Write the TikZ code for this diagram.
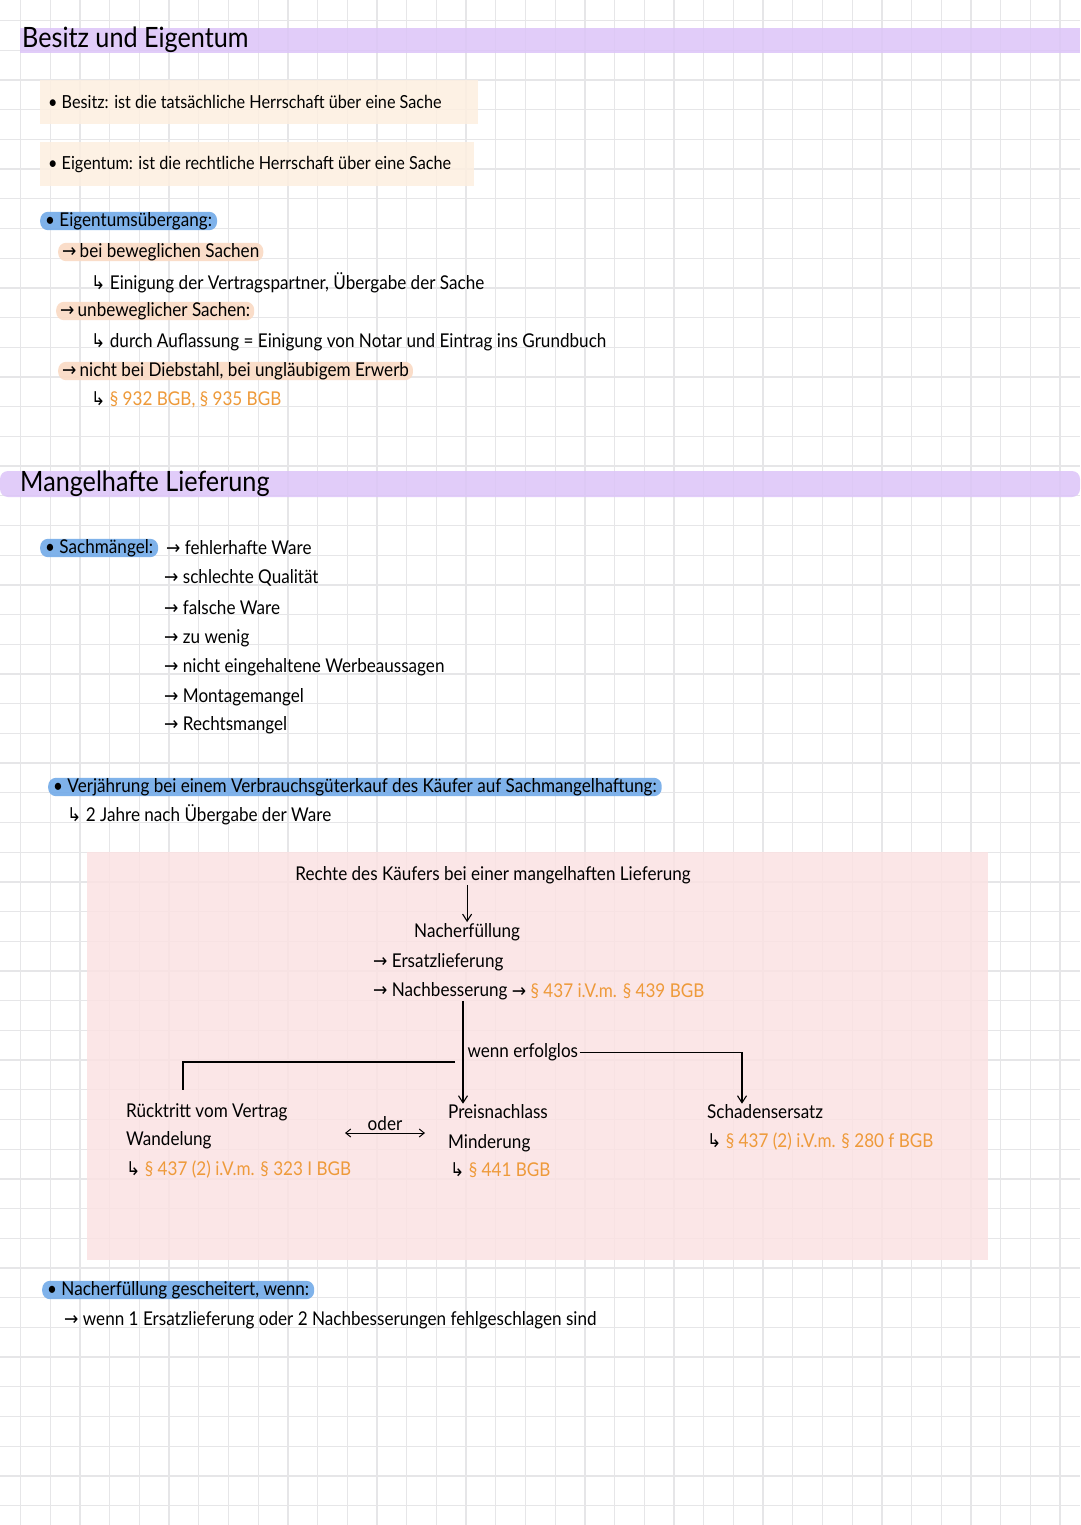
\documentclass[tikz,border=0pt]{standalone}
\usepackage{fontspec}
\setmainfont[FakeStretch=0.9]{Lato}
\newfontfamily\arrowfont[FakeStretch=0.9]{DejaVu Sans}
\usepackage{xcolor}
\usetikzlibrary{positioning, arrows.meta}

\definecolor{gridgray}{HTML}{E6E6E8}
\definecolor{bandlila}{HTML}{DCC4F8}
\definecolor{peach}{HTML}{FDEFE0}
\definecolor{apricot}{HTML}{FADAC4}
\definecolor{markblue}{HTML}{72AAE8}
\definecolor{boxrose}{HTML}{FBE2E3}
\definecolor{refgold}{HTML}{EE9A3A}

\newcommand{\pfeil}{{\arrowfont →}}
\newcommand{\haken}{{\arrowfont ↳}}

\begin{document}
\begin{tikzpicture}[
		x=1pt, y=-1pt,
		% Styles
		txt/.style={anchor=west, inner sep=1pt, font=\fontsize{19}{21}\selectfont},
		heading/.style={anchor=west, inner sep=0pt, font=\fontsize{28}{32}\selectfont},
		band/.style={fill=bandlila, fill opacity=0.85, draw=none},
		note_box/.style={txt, font=\fontsize{18}{20}\selectfont, anchor=north west, fill=peach, fill opacity=0.85, text opacity=1, inner xsep=8pt, minimum height=44pt},
		blue_mark/.style={txt, fill=markblue, fill opacity=0.9, text opacity=1, rounded corners=8pt, inner xsep=5pt, inner ysep=0.5pt},
		peach_mark/.style={txt, fill=apricot, fill opacity=0.9, text opacity=1, rounded corners=8pt, inner xsep=4pt, inner ysep=0.5pt},
		arrow/.style={-{Straight Barb[length=7pt, width=9pt]}, line width=1.1pt},
		line/.style={line width=1.1pt},
		both_ways/.style={{Straight Barb[length=5pt, width=8pt]}-{Straight Barb[length=5pt, width=8pt]}, line width=1pt}
	]
	\useasboundingbox (0,0) rectangle (1080,1525);
	\fill[white] (0,0) rectangle (1080,1525);

	% --- paper grid ---
	\foreach \i in {0,...,35} {
		\draw[gridgray, line width=1.3pt] (20.6+29.7*\i,0) -- (20.6+29.7*\i,1525);
	}
	\foreach \j in {0,...,51} {
		\draw[gridgray, line width=1.3pt] (0,20.6+29.7*\j) -- (1080,20.6+29.7*\j);
	}

	% --- Besitz und Eigentum ---
	\fill[band] (20,28) rectangle (1080,53);
	\node[heading] (title_one) at (22,40) {Besitz und Eigentum};

	\node[note_box] (besitz) at (40,80) {\makebox[422pt][l]{• Besitz: ist die tatsächliche Herrschaft über eine Sache}};
	\node[note_box] (eigentum) at (40,142) {\makebox[418pt][l]{• Eigentum: ist die rechtliche Herrschaft über eine Sache}};

	\node[blue_mark] (uebergang) at (40,221) {• Eigentumsübergang:};
	\node[peach_mark] (beweglich) at (58,252) {\pfeil\,bei beweglichen Sachen};
	\node[txt] (einigung) at (90,283) {\haken\ Einigung der Vertragspartner, Übergabe der Sache};
	\node[peach_mark] (unbeweglich) at (56,311) {\pfeil\,unbeweglicher Sachen:};
	\node[txt] (auflassung) at (90,342) {\haken\ durch Auflassung = Einigung von Notar und Eintrag ins Grundbuch};
	\node[peach_mark] (diebstahl) at (58,371) {\pfeil\,nicht bei Diebstahl, bei ungläubigem Erwerb};
	\node[txt] (paragraphen) at (90,400) {\haken\ \textcolor{refgold}{§ 932 BGB, § 935 BGB}};

	% --- Mangelhafte Lieferung ---
	\fill[band, rounded corners=8pt] (0,471) rectangle (1080,497);
	\node[heading] (title_two) at (20,484) {Mangelhafte Lieferung};

	\node[blue_mark] (sachmangel) at (40,548) {• Sachmängel:};
	\node[txt] (fehlerhaft) at (165,548) {\pfeil\ fehlerhafte Ware};
	\node[txt] (qualitaet) at (163,578) {\pfeil\ schlechte Qualität};
	\node[txt] (falsch) at (163,608) {\pfeil\ falsche Ware};
	\node[txt] (wenig) at (163,638) {\pfeil\ zu wenig};
	\node[txt] (werbung) at (163,667) {\pfeil\ nicht eingehaltene Werbeaussagen};
	\node[txt] (montage) at (163,697) {\pfeil\ Montagemangel};
	\node[txt] (rechtsmangel) at (163,725) {\pfeil\ Rechtsmangel};

	\node[blue_mark] (verjaehrung) at (48,787) {• Verjährung bei einem Verbrauchsgüterkauf des Käufer auf Sachmangelhaftung:};
	\node[txt] (zwei_jahre) at (66,815) {\haken\ 2 Jahre nach Übergabe der Ware};

	% --- Rechte des Kaeufers ---
	\fill[boxrose, fill opacity=0.85] (87,852) rectangle (988,1260);

	\node[txt, anchor=center] (rechte) at (493,875) {Rechte des Käufers bei einer mangelhaften Lieferung};
	\node[txt] (nacherf) at (413,932) {Nacherfüllung};
	\node[txt] (ersatz) at (372,962) {\pfeil\ Ersatzlieferung};
	\node[txt] (nachbess) at (372,991) {\pfeil\ Nachbesserung};
	\node[txt, right=2pt of nachbess] (nachbess_ref) {\pfeil\ \textcolor{refgold}{§ 437 i.V.m. § 439 BGB}};

	\node[txt] (ruecktritt) at (125,1112) {Rücktritt vom Vertrag};
	\node[txt] (wandelung) at (125,1140) {Wandelung};
	\node[txt] (ruecktritt_ref) at (125,1170) {\haken\ \textcolor{refgold}{§ 437 (2) i.V.m. § 323 I BGB}};

	\node[txt] (preis) at (447,1112) {Preisnachlass};
	\node[txt] (minderung) at (447,1143) {Minderung};
	\node[txt] (preis_ref) at (449,1170) {\haken\ \textcolor{refgold}{§ 441 BGB}};

	\node[txt] (schaden) at (706,1112) {Schadensersatz};
	\node[txt] (schaden_ref) at (706,1142) {\haken\ \textcolor{refgold}{§ 437 (2) i.V.m. § 280 f BGB}};

	\coordinate (split) at (455,1062);
	\coordinate (oder_l) at (345,1133);
	\coordinate (oder_r) at (425,1133);

	% --- ARROWS ---
	\draw[arrow] (rechte.south -| nacherf.north) -- (nacherf.north);
	\draw[arrow] ([xshift=16pt]preis.north west |- nachbess.south) -- ([xshift=16pt]preis.north west)
		node[txt, midway, right=3pt] (erfolglos) {wenn erfolglos};
	\draw[line] (split) -| ([xshift=58pt, yshift=12pt]ruecktritt.north west);
	\draw[arrow] (erfolglos.east) -| ([xshift=36pt]schaden.north west);
	\draw[both_ways] (oder_l) -- (oder_r) node[txt, anchor=south, midway, above=1pt] (oder) {oder};

	% --- Nacherfuellung gescheitert ---
	\node[blue_mark] (gescheitert) at (42,1290) {• Nacherfüllung gescheitert, wenn:};
	\node[txt] (fehlschlag) at (63,1320) {\pfeil\ wenn 1 Ersatzlieferung oder 2 Nachbesserungen fehlgeschlagen sind};

\end{tikzpicture}
\end{document}
